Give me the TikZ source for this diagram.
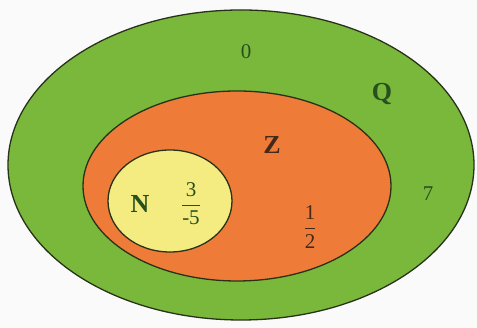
\documentclass[tikz,border=0pt]{standalone}
\usepackage{fontspec}
\setmainfont{Liberation Serif}
\usetikzlibrary{shapes.geometric}
\definecolor{gfill}{RGB}{122,184,60}
\definecolor{ofill}{RGB}{238,124,56}
\definecolor{yfill}{RGB}{244,236,128}
\definecolor{edge}{RGB}{40,50,25}
\definecolor{gtext}{RGB}{40,80,30}
\definecolor{btext}{RGB}{70,40,25}
\newcommand{\myfrac}[2]{$\displaystyle\frac{\hbox{#1}}{\hbox{#2}}$}
\begin{document}
\begin{tikzpicture}[x=1pt,y=1pt,
  setshape/.style={draw=edge,line width=1.3pt,ellipse,inner sep=0pt},
  lab/.style={font=\fontsize{26}{28}\selectfont},
  num/.style={font=\fontsize{21}{23}\selectfont}]
\useasboundingbox (0,0) rectangle (477,328);
\fill[white!96!gray] (0,0) rectangle (477,328);
\node[setshape,fill=gfill,minimum width=466pt,minimum height=310pt] (Qset) at (241,163) {};
\node[setshape,fill=ofill,minimum width=308pt,minimum height=190pt] (Zset) at (237,142) {};
\node[setshape,fill=yfill,minimum width=124pt,minimum height=102pt] (Nset) at (170,127) {};
\node[num,text=gtext] (zero) at (246,276) {0};
\node[lab,text=gtext] (Q) at (382,234) {\textbf{Q}};
\node[lab,text=btext] (Z) at (272,183) {\textbf{Z}};
\node[lab,text=gtext] (N) at (140,124) {\textbf{N}};
\node[num,text=gtext] (f35) at (191,124) {\myfrac{3}{-5}};
\node[num,text=btext] (f12) at (310,101) {\myfrac{1}{2}};
\node[num,text=gtext] (seven) at (428,134) {7};
\end{tikzpicture}
\end{document}
